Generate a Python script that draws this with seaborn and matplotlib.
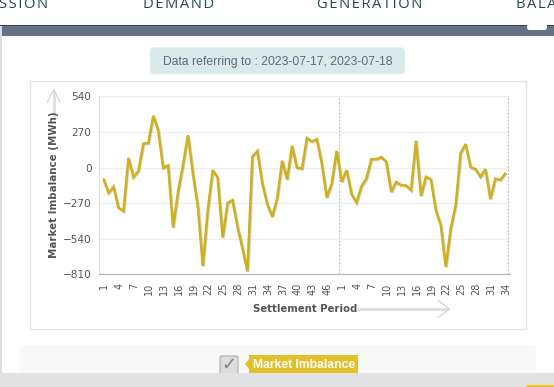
import matplotlib
matplotlib.use("Agg")
import matplotlib.pyplot as plt
import matplotlib.patheffects as pe
from matplotlib.patches import FancyBboxPatch, Rectangle, Polygon
import pandas as pd
import seaborn as sns

day1_imbalance = [-91, -192, -147, -306, -331, 73, -73, -28, 180, 185, 392, 283,
                  -3, 15, -455, -185, 18, 245, -46, -299, -746, -324, -20, -78,
                  -531, -268, -248, -450, -615, -787, 81, 124, -121, -278, -374,
                  -235, 51, -91, 164, -3, -8, 223, 197, 213, 30, -228, -121, 126]
day2_imbalance = [-109, -20, -202, -266, -142, -83, 63, 63, 78, 43, -185, -111,
                  -134, -137, -172, 202, -215, -71, -91, -324, -438, -754, -463,
                  -286, 111, 177, 3, -13, -71, -13, -238, -86, -94, -46]
y_ticks = [540, 270, 0, -270, -540, -810]
x_tick_labels = ["1", "4", "7", "10", "13", "16", "19", "22", "25", "28", "31", "34",
                 "37", "40", "43", "46", "1", "4", "7", "10", "13", "16", "19", "22",
                 "25", "28", "31", "34"]
x_tick_positions = list(range(0, 48, 3)) + list(range(48, 82, 3))
day_boundaries = [47.5, 81.5]
nav_items = ["SSION", "DEMAND", "GENERATION", "BALA"]
nav_x = [-1, 143, 317, 516]

W, H = 554, 387
sns.set_theme(style="white")
plt.rcParams["font.family"] = ["DejaVu Sans"]
fig = plt.figure(figsize=(W / 100, H / 100), dpi=100, facecolor="white")

# page furniture, in pixel coordinates
bg = fig.add_axes([0, 0, 1, 1], zorder=0)
bg.set_xlim(0, W)
bg.set_ylim(H, 0)
bg.axis("off")

for label, x in zip(nav_items, nav_x):
    bg.text(x, 8.5, "\u200a".join(label), fontsize=10.6, color="#1f4a55", ha="left",
            va="baseline", family=["Open Sans", "DejaVu Sans"], clip_on=True)
bg.add_patch(Rectangle((0, 25), W, 1, fc="#1f4a55", ec="none"))
bg.add_patch(Rectangle((2, 26), W, 10, fc="#667289", ec="none"))
bg.add_patch(Rectangle((0, 26), 1.5, H, fc="#dddddd", ec="none"))
bg.add_patch(FancyBboxPatch((527, 24), 20, 6, boxstyle="round,pad=0,rounding_size=2.5",
                            fc="white", ec="none"))
bg.add_patch(FancyBboxPatch((150, 47.5), 255, 26.5, boxstyle="round,pad=0,rounding_size=4",
                            fc="#d8eaea", ec="none"))
bg.text(277.5, 62, "Data referring to : 2023-07-17, 2023-07-18", fontsize=8.75,
        color="#5c6b80", ha="center", va="center", family="Liberation Sans")
bg.add_patch(Rectangle((30, 80.5), 495.5, 248.5, fc="white", ec="#e4e4e4", lw=1))

# legend panel
bg.add_patch(FancyBboxPatch((19.5, 345), 516.5, 40, boxstyle="round,pad=0,rounding_size=5",
                            fc="#f8f8f8", ec="none"))
bg.add_patch(FancyBboxPatch((220, 356), 18, 19, boxstyle="round,pad=0,rounding_size=2",
                            fc="#dcdcdc", ec="#bbbbbb", lw=1))
bg.text(229, 365, "\u2713", fontsize=13, color="#808080", ha="center", va="center",
        fontweight="bold")
bg.add_patch(Rectangle((249, 355), 109, 19, fc="#e3c02b", ec="none"))
bg.add_patch(Polygon([[249, 359], [245, 364], [249, 369]], fc="#e3c02b", ec="none"))
bg.text(304, 364.5, "Market Imbalance", fontsize=8.7, color="white", ha="center",
        va="center", fontweight="bold", family="Liberation Sans")
bg.add_patch(Rectangle((0, 373), W, 14, fc="#e2e2e2", ec="none", zorder=5))
bg.add_patch(FancyBboxPatch((526, 385), 40, 6, boxstyle="round,pad=0,rounding_size=2",
                            fc="#e8c81a", ec="none", zorder=6))

# axis arrows
bg.plot([53.7, 53.7], [91, 116], color="#dddddd", lw=2, solid_capstyle="butt")
bg.plot([47.5, 53.7, 60], [102, 89.5, 102], color="#d0d0d0", lw=0.8)
bg.plot([357, 448], [309, 309], color="#dddddd", lw=2, solid_capstyle="butt")
bg.plot([438, 449.5, 438], [300.5, 309, 317.5], color="#d0d0d0", lw=0.8)

# chart
L, R, T, B = 98.5, 510, 96.3, 274.3
ax = fig.add_axes([L / W, 1 - B / H, (R - L) / W, (B - T) / H], zorder=2)
ax.patch.set_alpha(0)

values = day1_imbalance + day2_imbalance
df = pd.DataFrame({"pos": range(len(values)), "value": values})
sns.lineplot(data=df, x="pos", y="value", ax=ax, color="#cfb01f", lw=1.9,
             estimator=None, sort=False, solid_joinstyle="miter",
             path_effects=[pe.SimpleLineShadow(offset=(0.6, -0.6), alpha=0.22,
                                               shadow_color="#555555"), pe.Normal()])

ax.set_xlim(-1.05, 81.95)
ax.set_ylim(-810, 540)
ax.set_yticks(y_ticks)
ax.set_xticks([p + 0.15 for p in x_tick_positions])
ax.set_xticklabels(x_tick_labels, rotation=90)
ax.tick_params(axis="x", length=0, pad=6, labelsize=7.0, labelcolor="#555555")
ax.tick_params(axis="y", length=0, pad=5, labelsize=7.6, labelcolor="#555555")
ax.grid(axis="y", color="#eeeeee", lw=0.9)
ax.set_axisbelow(True)
for b in day_boundaries:
    ax.axvline(b, color="#bdbdbd", lw=0.8, ls=(0, (1.6, 1.6)), zorder=1)
for s in ["top", "right"]:
    ax.spines[s].set_visible(False)
ax.spines["left"].set_color("#dedede")
ax.spines["left"].set_linewidth(0.8)
ax.spines["bottom"].set_color("#bbbbbb")
ax.spines["bottom"].set_linewidth(0.9)
ax.set_xlabel("")
ax.set_ylabel("")

bg.text(54, 185, "Market Imbalance (MWh)", rotation=90, fontsize=7.35, color="#555555",
        fontweight="bold", ha="center", va="center", zorder=4)
bg.text(305, 309, "Settlement Period", fontsize=7.25, color="#555555", fontweight="bold",
        ha="center", va="center", zorder=4)

fig.savefig("out.png", dpi=100, facecolor="white")
